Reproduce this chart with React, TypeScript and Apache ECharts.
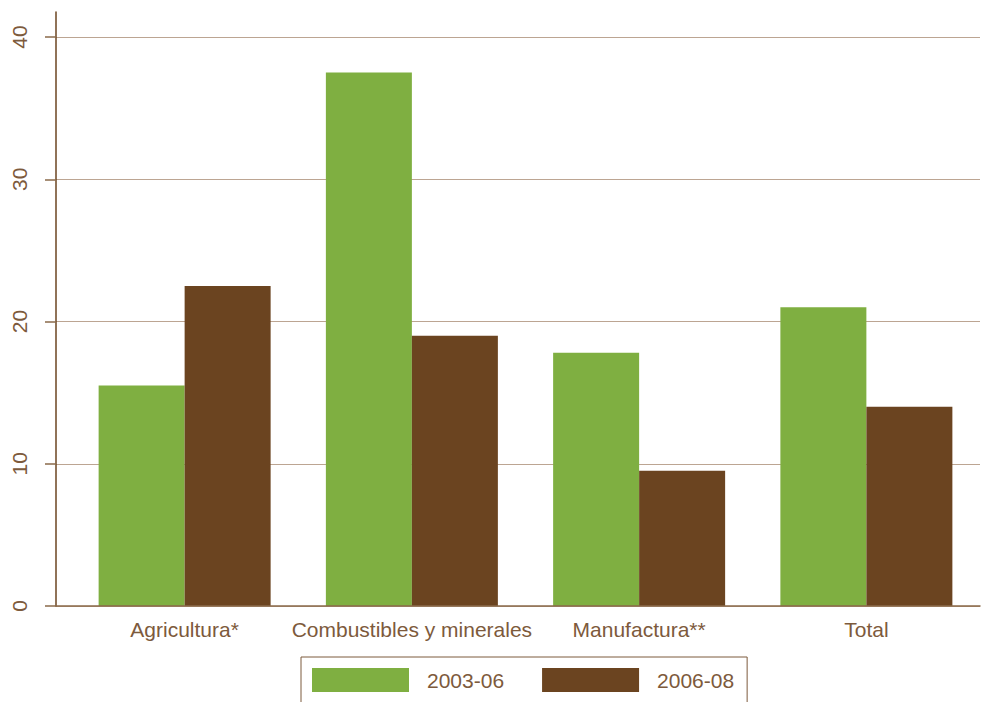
import React, { useEffect, useRef } from "react";
import * as echarts from "echarts";

const categories = ["Agricultura*", "Combustibles y minerales", "Manufactura**", "Total"];
const seriesNames = ["2003-06", "2006-08"];
const values2003 = [15.5, 37.5, 17.8, 21.0];
const values2006 = [22.5, 19.0, 9.5, 14.0];
const yTicks = [0, 10, 20, 30, 40];

const GREEN = "#7faf41";
const BROWN = "#6b4420";
const TEXT = "#7d5a3c";
const FONT = "'Liberation Sans', Arial, sans-serif";

export default function App() {
  const ref = useRef<HTMLDivElement>(null);
  useEffect(() => {
    if (!ref.current) return;
    const chart = echarts.init(ref.current, null, { renderer: "svg" });
    const yMax = yTicks[yTicks.length - 1];
    chart.setOption({
      animation: false,
      backgroundColor: "#ffffff",
      textStyle: { fontFamily: FONT },
      legend: {
        data: seriesNames,
        left: 301,
        top: 657,
        orient: "horizontal",
        padding: [11, 13, 30, 11],
        borderColor: TEXT,
        borderWidth: 1,
        itemWidth: 97,
        itemHeight: 24,
        itemGap: 38,
        icon: "rect",
        textStyle: { color: TEXT, fontSize: 21, fontFamily: FONT, padding: [0, 0, 0, 13] },
      },
      grid: [
        { left: 56, right: 2, top: 12, bottom: 96 },
        { left: 56, right: 2, top: 37, bottom: 96 },
        { left: 71, right: 2, top: 37, bottom: 96 },
      ],
      xAxis: [
        { type: "value", gridIndex: 0, show: false },
        {
          type: "category",
          gridIndex: 1,
          data: categories,
          z: 5,
          axisLine: { show: true, lineStyle: { color: "#8a6a4a", width: 1.5 } },
          axisTick: { show: false },
          axisLabel: { show: false },
        },
        {
          type: "category",
          gridIndex: 2,
          data: categories,
          axisLine: { show: false },
          axisTick: { show: false },
          axisLabel: { color: TEXT, fontSize: 21, fontFamily: FONT, margin: 13, interval: 0 },
        },
      ],
      yAxis: [
        {
          type: "value",
          gridIndex: 0,
          min: 0,
          max: 1,
          axisLine: { show: true, lineStyle: { color: BROWN, width: 1.5 } },
          axisTick: { show: false },
          axisLabel: { show: false },
          splitLine: { show: false },
        },
        {
          type: "value",
          gridIndex: 1,
          min: 0,
          max: yMax,
          interval: 10,
          axisLine: { show: false },
          axisTick: { show: true, length: 11, lineStyle: { color: "#8a6a4a", width: 1.5 } },
          axisLabel: { color: TEXT, fontSize: 21, fontFamily: FONT, rotate: 90, margin: 26 },
          splitLine: { show: true, lineStyle: { color: "#bca592", width: 1 } },
        },
        {
          type: "value",
          gridIndex: 2,
          min: 0,
          max: yMax,
          interval: 10,
          show: false,
          splitLine: { show: false },
        },
      ],
      series: [
        {
          name: seriesNames[0],
          type: "bar",
          xAxisIndex: 2,
          yAxisIndex: 2,
          data: values2003,
          barWidth: 86,
          barGap: "0%",
          itemStyle: { color: GREEN },
        },
        {
          name: seriesNames[1],
          type: "bar",
          xAxisIndex: 2,
          yAxisIndex: 2,
          data: values2006,
          barWidth: 86,
          barGap: "0%",
          itemStyle: { color: BROWN },
        },
      ],
    });
    return () => chart.dispose();
  }, []);
  return (
    <div
      ref={ref}
      style={{ position: "fixed", left: 0, top: 0, width: 982, height: 702 }}
    />
  );
}
